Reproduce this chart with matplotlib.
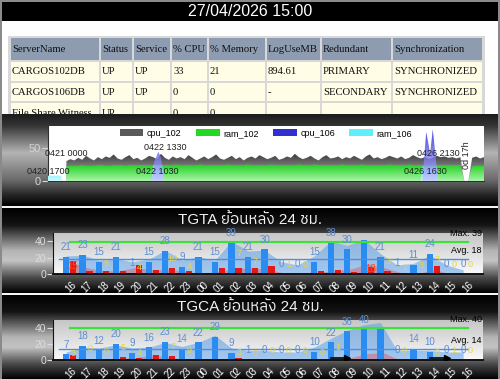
import numpy as np
import matplotlib
matplotlib.use('Agg')
import matplotlib.pyplot as plt
from matplotlib.patches import Rectangle, Polygon, Patch
from matplotlib.colors import to_rgb
from matplotlib import font_manager as fm
from matplotlib.ft2font import FT2Font
from datetime import datetime

# ---------------- data ----------------
title_text = '27/04/2026 15:00'
headers = ['ServerName', 'Status', 'Service', '% CPU', '% Memory', 'LogUseMB', 'Redundant', 'Synchronization']
rows = [['CARGOS102DB', 'UP', 'UP', '33', '21', '894.61', 'PRIMARY', 'SYNCHRONIZED'],
        ['CARGOS106DB', 'UP', 'UP', '0', '0', '-', 'SECONDARY', 'SYNCHRONIZED'],
        ['File Share Witness', 'UP', '', '0', '0', '', '', '']]

ts_origin = '2026 0420 1700'
ts_end = '2026 0427 1500'
series_names = ['cpu_102', 'ram_102', 'cpu_106', 'ram_106']
cpu102_first_hour = 7.0
cpu102_step = 1.5
cpu_102 = [30, 33, 31, 35, 32, 38, 34, 31, 36, 33,
           37, 35, 40, 34, 32, 36, 39, 33, 35, 31,
           34, 38, 36, 33, 41, 35, 32, 37, 34, 36,
           33, 39, 35, 31, 34, 37, 33, 36, 40, 34,
           32, 35, 38, 33, 36, 31, 35, 37, 34, 39,
           36, 33, 35, 38, 32, 34, 37, 35, 41, 36,
           33, 35, 38, 34, 31, 36, 39, 34, 35, 37,
           33, 36, 34, 38, 35, 32, 37, 40, 34, 36,
           33, 35, 38, 36, 34, 37, 33, 35, 39, 36,
           34, 36, 33, 35, 38, 36, 37, 35, 36, 34,
           36, 0, 0, 35, 37, 34, 36]
ram_102 = [22, 23, 23, 23, 24, 23, 23, 23, 24, 24,
           23, 23, 24, 24, 24, 23, 24, 24, 24, 24,
           24, 24, 24, 23, 24, 24, 24, 24, 25, 24,
           24, 24, 24, 24, 25, 24, 24, 24, 24, 24,
           24, 25, 24, 24, 24, 24, 25, 24, 24, 24,
           24, 24, 25, 24, 24, 24, 24, 24, 24, 25,
           24, 24, 24, 25, 24, 24, 24, 24, 24, 24,
           25, 24, 24, 24, 24, 25, 24, 24, 24, 24,
           24, 24, 25, 24, 24, 24, 24, 25, 24, 24,
           24, 24, 24, 25, 24, 24, 24, 24, 24, 24,
           24, 0, 0, 22, 23, 23, 23]
cpu106_hours = [39.5, 40.5, 42.0, 43.0, 44.0, 142.5, 144.0, 145.5, 146.5, 147.5, 148.5]
cpu_106 = [0, 30, 44, 36, 0, 0, 74, 42, 78, 40, 0]
ram106_hours = [0.0, 5.0, 5.5, 39.5, 40.0, 43.5, 44.0, 142.0, 142.5, 148.0, 148.5]
ram_106 = [8, 8, 0, 0, 24, 24, 0, 0, 22, 22, 0]
ann_labels = ['0420 1700', '0421 0000', '0422 1030', '0422 1330', '0426 1630', '0426 2130']
ann_values = [15, 42, 15, 51, 15, 42]
uptime_label = '0d 17h'
uptime_value = 39

hour_labels = ['16', '17', '18', '19', '20', '21', '22', '23', '00', '01', '02', '03', '04',
               '05', '06', '07', '08', '09', '10', '11', '12', '13', '14', '15', '16']

tgta_title = 'TGTA ย้อนหลัง 24 ชม.'
tgta_blue = [21, 23, 15, 21, 1, 15, 28, 9, 21, 15, 39, 21, 30, 0, 0, 15, 38, 30, 41, 21, 1, 11, 24, 0, 0]
tgta_blue_lbl = ['21', '23', '15', '21', '1', '15', '28', '9', '21', '15', '39', '21', '30', '0', '0',
                 '15', '38', '30', '', '21', '1', '11', '24', '0', '0']
tgta_red = [16, 4, 4, 4, 11, 5, 7, 4, 1, 7, 7, 7, 10, 1, 0, 4, 5, 2, 8, 4, 1, 0, 10, 0, 0]
tgta_red_area = [15, 8, 4, 4, 8, 5, 6, 3, 1, 3, 7, 7, 6, 1, 0, 2, 4, 6, 12, 8, 2, 0, 6, 0, 0]
tgta_red_lbl = ['15', '', '', '', '', '', '', '', '', '', '', '', '', '', '', '', '', '', '18',
                '', '', '', '', '', '']
tgta_trend = [22, 23, 17, 19, 15, 18, 29, 17, 21, 17, 40, 28, 29, 15, 11, 22, 40, 35, 42, 25, 11, 13, 23, 11, 5]
tgta_yellow = ['', '', '5', '', '4', '', '10', '4', '', '', '7', '7', '', '1', '0', '', '', '', '',
               '3', '1', '3', '3', '0', '0']
tgta_black = [np.nan] * 25
tgta_max, tgta_avg = 39, 18

tgca_title = 'TGCA ย้อนหลัง 24 ชม.'
tgca_blue = [7, 18, 12, 20, 9, 16, 23, 14, 22, 29, 9, 1, 0, 0, 0, 10, 22, 36, 40, 40, 0, 14, 10, 0, 0]
tgca_blue_lbl = ['7', '18', '12', '20', '9', '16', '23', '14', '22', '29', '9', '1', '0', '0', '0',
                 '10', '22', '36', '40', '', '0', '14', '10', '0', '0']
tgca_red = [6, 0, 1, 4, 3, 6, 5, 0, 1, 1, 2, 0, 0, 0, 0, 0, 0, 0, 0, 0, 0, 0, 0, 0, 0]
tgca_red_area = [0, 0, 0, 2, 3, 6, 4, 0, 0, 0, 0, 0, 0, 0, 0, 0, 0, 3, 8, 9, 0, 0, 0, 0, 0]
tgca_red_lbl = [''] * 25
tgca_trend = [10, 16, 15, 19, 15, 16, 22, 17, 22, 31, 15, 12, 12, 10, 10, 16, 27, 37, 44, 47, 12, 12, 12, 10, 10]
tgca_yellow = ['3', '0', '0', '5', '4', '', '7', '9', '', '', '3', '0', '0', '0', '0', '0', '1', '', '',
               '', '0', '', '0', '1', '0']
tgca_black = [np.nan] * 16 + [3, 3] + [np.nan] * 4 + [3, 3] + [np.nan]
tgca_max, tgca_avg = 40, 14

# ---------------- fonts ----------------
def find_font(ch):
    cands = sorted(fm.fontManager.ttflist, key=lambda f: ('Thai' not in f.name, f.name))
    for f in cands:
        try:
            if ord(ch) in FT2Font(f.fname).get_charmap():
                return f.name
        except Exception:
            pass
    return None

thai = find_font('ย')
title_family = ['Liberation Sans'] + ([thai] if thai else []) + ['DejaVu Sans']
plt.rcParams['font.family'] = ['Liberation Sans', 'DejaVu Sans']

# ---------------- figure ----------------
W, H = 500, 379
fig = plt.figure(figsize=(5, 3.79), dpi=100)
fig.patch.set_facecolor('#8a8a8a')
bg = fig.add_axes([0, 0, 1, 1])
bg.axis('off')


def rect(x0, y0, x1, y1):
    return [x0 / W, 1 - y1 / H, (x1 - x0) / W, (y1 - y0) / H]


def vgrad_arr(stops, n=200):
    pos = np.array([s[0] for s in stops])
    cols = np.array([to_rgb(s[1]) for s in stops])
    t = np.linspace(0, 1, n)
    arr = np.stack([np.interp(t, pos, cols[:, k]) for k in range(3)], axis=1)
    return arr[:, None, :]


def panel(y0, y1, stops, z=5):
    bg.imshow(vgrad_arr(stops), extent=(2, 498, y1, y0), aspect='auto', origin='upper',
              interpolation='bilinear', zorder=z)


# title bar
bg.add_patch(Rectangle((2, 2), 496, 19, facecolor='black', edgecolor='none', zorder=1))
bg.text(250, 12, title_text, color='white', fontsize=11.5, ha='center', va='center', zorder=2)
# white area + table
bg.add_patch(Rectangle((2, 21), 496, 96, facecolor='white', edgecolor='none', zorder=1))
bg.add_patch(Rectangle((8, 36), 477, 82, facecolor='#d8d8d8', edgecolor='none', zorder=1.5))
colb = [10, 100, 133, 171, 208, 266, 321, 392, 483]
rowb = [(38, 60), (61.5, 81), (82.5, 101), (102.5, 125)]
for r, (y0, y1) in enumerate(rowb):
    cells = headers if r == 0 else rows[r - 1]
    fc = '#8e9cb2' if r == 0 else '#fffde6'
    for c in range(len(colb) - 1):
        bg.add_patch(Rectangle((colb[c] + 1, y0), colb[c + 1] - colb[c] - 2, y1 - y0,
                               facecolor=fc, edgecolor='none', zorder=2))
        ty = (y0 + y1) / 2 + 0.5 if r < 3 else y0 + 11.5
        bg.text(colb[c] + 2, ty, cells[c], fontsize=7.7, family='Liberation Serif',
                color='#101010', ha='left', va='center', zorder=3)

# panels
panel(114.5, 206, [(0, '#1c1c1c'), (0.12, '#333333'), (0.42, '#b4b4b4'), (0.72, '#6a6a6a'),
                   (0.88, '#262626'), (1, '#000000')])
bg.add_patch(Rectangle((2, 206), 496, 2.2, facecolor='#f4f4f4', edgecolor='none', zorder=6))
panel(208, 293, [(0, '#000000'), (0.2, '#141414'), (0.5, '#b4b4b4'), (0.62, '#c4c4c4'),
                 (0.82, '#4a4a4a'), (1, '#000000')])
bg.add_patch(Rectangle((2, 293), 496, 2.2, facecolor='#f4f4f4', edgecolor='none', zorder=6))
panel(295, 379, [(0, '#000000'), (0.2, '#141414'), (0.5, '#b4b4b4'), (0.62, '#c4c4c4'),
                 (0.82, '#4a4a4a'), (1, '#000000')])
bg.text(250, 220, tgta_title, color='#f2f2f2', fontsize=11, family=title_family,
        ha='center', va='center', zorder=7)
bg.text(250, 307, tgca_title, color='#f2f2f2', fontsize=11, family=title_family,
        ha='center', va='center', zorder=7)
bg.set_xlim(0, W)
bg.set_ylim(H, 0)


def grad_fill(ax, x, y, top, bottom, z, alpha=1.0):
    x = np.asarray(x, float)
    y = np.asarray(y, float)
    verts = [(x[0], 0)] + list(zip(x, y)) + [(x[-1], 0)]
    poly = Polygon(verts, closed=True, facecolor='none', edgecolor='none')
    ax.add_patch(poly)
    im = ax.imshow(vgrad_arr([(0, top), (1, bottom)], 64), extent=(x.min(), x.max(), 0, y.max()),
                   aspect='auto', origin='upper', zorder=z, alpha=alpha, interpolation='bilinear')
    im.set_clip_path(poly)


# ---------------- top time-series chart ----------------
t0 = datetime.strptime(ts_origin, '%Y %m%d %H%M')
t_end = (datetime.strptime(ts_end, '%Y %m%d %H%M') - t0).total_seconds() / 3600
ax1 = fig.add_axes(rect(48, 126, 484, 181))
ax1.set_facecolor('white')
ax1.set_zorder(10)
h102 = cpu102_first_hour + cpu102_step * np.arange(len(cpu_102))
grad_fill(ax1, h102, cpu_102, '#3a3a3a', '#c4c4c4', 2)
grad_fill(ax1, h102, ram_102, '#1ed01e', '#a8f4a8', 3)
grad_fill(ax1, ram106_hours, ram_106, '#5ee8f6', '#c8fbff', 4)
grad_fill(ax1, cpu106_hours, cpu_106, '#1c1cd8', '#c4c4ff', 5, alpha=0.8)
for lbl, v in zip(ann_labels, ann_values):
    h = (datetime.strptime('2026 ' + lbl, '%Y %m%d %H%M') - t0).total_seconds() / 3600
    ax1.text(h, v, lbl, fontsize=6.5, color='#202020', ha='center', va='center', zorder=8,
             clip_on=False)
ax1.text(159.5, uptime_value, uptime_label, fontsize=6.5, color='#202020', rotation=90,
         ha='center', va='center', zorder=8)
handles = [Patch(facecolor='#5a5a5a'), Patch(facecolor='#22d822'), Patch(facecolor='#3030d0'),
           Patch(facecolor='#60eefa')]
ax1.legend(handles, series_names, loc='upper center', ncol=4, frameon=False, fontsize=6.5,
           handlelength=2.6, handleheight=0.7, columnspacing=1.6, handletextpad=0.4,
           borderaxespad=0.1, borderpad=0.2)
ax1.set_xlim(0, t_end)
ax1.set_ylim(0, 83)
ax1.set_yticks([0, 50])
ax1.set_xticks([])
ax1.tick_params(axis='y', colors='#d4d4d4', labelsize=8, length=4, pad=1)
for s in ['top', 'right']:
    ax1.spines[s].set_visible(False)
ax1.spines['left'].set_color('#303030')
ax1.spines['bottom'].set_color('#303030')


# ---------------- bar panels ----------------
def bar_panel(y0, y1, blue, blue_lbl, red, red_area, red_lbl, trend, yellow, black, vmax, vavg):
    ax = fig.add_axes(rect(53, y0, 483, y1))
    ax.set_zorder(10)
    n = len(blue)
    idx = np.arange(n)
    ax.imshow(vgrad_arr([(0, '#c6c6c6'), (1, '#fafafa')], 64), extent=(-0.79, 25.2, 0, 50),
              aspect='auto', origin='upper', zorder=0)
    ax.fill_between(idx, 0, trend, color='#5c9fe8', alpha=0.55, lw=0, zorder=1)
    ax.fill_between(idx + 0.2, 0, red_area, color='#f03030', alpha=0.35, lw=0, zorder=1.5)
    ax.bar(idx, blue, width=0.38, color='#2a8cf0', zorder=2)
    ax.bar(idx + 0.42, red, width=0.38, color='#e41818', zorder=2.2)
    ax.plot([0.25, n - 0.7], [vmax, vmax], color='#3ee03e', lw=1.6, zorder=2.5)
    ax.plot([-0.4, n - 0.7], [vavg, vavg], color='#4a90dc', lw=1.0, zorder=2.5)
    b = np.array(black, float)
    ax.plot(idx, b, color='black', lw=1.2, zorder=2.6)
    ends = [i for i in range(n) if not np.isnan(b[i]) and (i == n - 1 or np.isnan(b[i + 1]))]
    ax.plot(idx[ends], b[ends], ls='none', marker='>', ms=4, color='black', zorder=2.6)
    for i in range(n):
        ly = min(blue[i] + 12, 50)
        if blue_lbl[i]:
            ax.text(i, ly, blue_lbl[i], color='#5a8fd4', fontsize=7, ha='center', va='center',
                    zorder=3, clip_on=False)
        if yellow[i]:
            yy = ly if blue[i] == 0 else max(blue[i] * 0.55, 4) + 4
            ax.text(i + 0.45, yy, yellow[i], color='#e6d640', fontsize=6.5, ha='center',
                    va='center', zorder=3)
        if red_lbl[i]:
            ax.text(i + 0.42, red[i] * 0.5 + 2, red_lbl[i], color='#ff4a1a', fontsize=7,
                    ha='center', va='center', zorder=3)
    for txt, v in ((f'Max. {vmax}', vmax), (f'Avg. {vavg}', vavg)):
        ax.annotate(txt, xy=(1.0, v), xycoords=('axes fraction', 'data'), xytext=(-1, 3),
                    textcoords='offset points', ha='right', va='bottom', fontsize=6.5,
                    color='black', zorder=4)
    ax.set_xlim(-0.79, 25.2)
    ax.set_ylim(0, 50)
    ax.set_yticks([0, 20, 40])
    ax.tick_params(axis='y', colors='#dcdcdc', labelsize=7.5, length=4, pad=1)
    ax.set_xticks(idx + 0.3)
    ax.set_xticklabels(hour_labels, rotation=45, ha='right', rotation_mode='anchor',
                       color='white', fontsize=7)
    ax.tick_params(axis='x', length=0, pad=4)
    for s in ['top', 'right']:
        ax.spines[s].set_visible(False)
    ax.spines['left'].set_color('#111111')
    ax.spines['bottom'].set_color('#111111')
    ax.spines['bottom'].set_linewidth(1.4)
    return ax


bar_panel(233, 274, tgta_blue, tgta_blue_lbl, tgta_red, tgta_red_area, tgta_red_lbl, tgta_trend,
          tgta_yellow, tgta_black, tgta_max, tgta_avg)
bar_panel(320, 360, tgca_blue, tgca_blue_lbl, tgca_red, tgca_red_area, tgca_red_lbl, tgca_trend,
          tgca_yellow, tgca_black, tgca_max, tgca_avg)

fig.savefig('out.png', dpi=100, facecolor=fig.get_facecolor())
